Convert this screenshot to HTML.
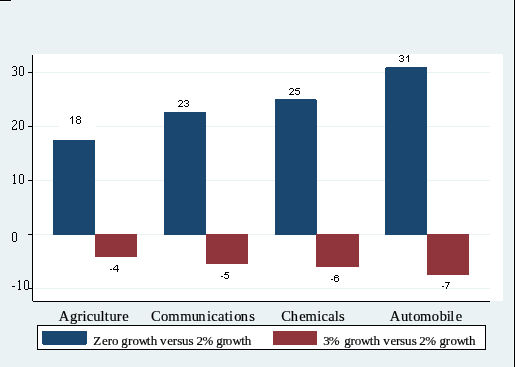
<!DOCTYPE html>
<html><head><meta charset="utf-8">
<style>
html,body{margin:0;padding:0;width:515px;height:367px;overflow:hidden;background:#EAF2F3;}
svg{position:absolute;left:0;top:0;display:block;will-change:transform;}
.s{font-family:"Liberation Sans",sans-serif;fill:#000;}
.f{font-family:"Liberation Serif",serif;fill:#000;stroke:#000;stroke-width:0.18px;}
</style></head>
<body>
<svg width="515" height="367" viewBox="0 0 515 367">
<g shape-rendering="crispEdges">
<rect x="0" y="0" width="515" height="367" fill="#EAF2F3"/>
<rect x="0" y="1" width="11" height="1" fill="#F8FCFC"/><rect x="11" y="0" width="1" height="1" fill="#F8FCFC"/>
<rect x="0" y="0" width="11" height="1" fill="#000"/>
<rect x="513" y="0" width="1" height="367" fill="#F6FAFA"/>
<rect x="514" y="0" width="1" height="367" fill="#000"/>
<!-- plot region -->
<rect x="32" y="54" width="471" height="247" fill="#fff"/>
<!-- gridlines -->
<rect x="34" y="72" width="456" height="1" fill="#EAF2F3"/>
<rect x="34" y="126" width="456" height="1" fill="#EAF2F3"/>
<rect x="34" y="180" width="456" height="1" fill="#EAF2F3"/>
<rect x="34" y="234" width="456" height="1" fill="#EAF2F3"/>
<rect x="34" y="288" width="456" height="1" fill="#EAF2F3"/>
<rect x="59" y="124" width="37" height="4" fill="#fff"/>
<!-- bars navy -->
<rect x="53" y="140" width="42" height="95" fill="#1A476F"/>
<rect x="164" y="112" width="42" height="123" fill="#1A476F"/>
<rect x="275" y="99" width="42" height="136" fill="#1A476F"/>
<rect x="385" y="67" width="42" height="168" fill="#1A476F"/>
<!-- bars maroon -->
<rect x="95" y="234" width="42" height="23" fill="#90353B"/>
<rect x="206" y="234" width="42" height="30" fill="#90353B"/>
<rect x="316" y="234" width="43" height="33" fill="#90353B"/>
<rect x="427" y="234" width="42" height="41" fill="#90353B"/>
<rect x="316" y="99" width="1" height="1" fill="#fff"/><rect x="385" y="67" width="1" height="1" fill="#fff"/>
<!-- axes -->
<rect x="32" y="55" width="1" height="246" fill="#000"/>
<rect x="33" y="301" width="457" height="1" fill="#000"/>
<rect x="502" y="54" width="1" height="1" fill="#EAF2F3"/>
<rect x="28" y="72" width="4" height="1" fill="#000"/>
<rect x="28" y="126" width="4" height="1" fill="#000"/>
<rect x="28" y="180" width="4" height="1" fill="#000"/>
<rect x="28" y="234" width="4" height="1" fill="#000"/>
<rect x="28" y="288" width="4" height="1" fill="#000"/>
<!-- legend -->
<rect x="37.5" y="325.5" width="448" height="24" fill="#fff" stroke="#000" stroke-width="1"/>
<rect x="42" y="331" width="45" height="14" fill="#1A476F"/>
<rect x="42" y="344" width="1" height="1" fill="#fff"/><rect x="86" y="344" width="1" height="1" fill="#fff"/>
<rect x="273" y="331" width="44" height="14" fill="#90353B"/>
</g>
<!-- numeric labels (bitmap) -->
<g shape-rendering="crispEdges"><path fill="#000" d="M72 116h1v1h-1zM71 117h2v1h-2zM70 118h1v1h-1zM72 118h1v1h-1zM72 119h1v1h-1zM72 120h1v1h-1zM72 121h1v1h-1zM72 122h1v1h-1zM72 123h1v1h-1zM77 116h3v1h-3zM76 117h1v1h-1zM80 117h1v1h-1zM76 118h1v1h-1zM80 118h1v1h-1zM77 119h3v1h-3zM76 120h1v1h-1zM80 120h1v1h-1zM76 121h1v1h-1zM80 121h1v1h-1zM76 122h1v1h-1zM80 122h1v1h-1zM77 123h3v1h-3zM179 100h3v1h-3zM178 101h1v1h-1zM182 101h1v1h-1zM182 102h1v1h-1zM181 103h1v1h-1zM180 104h1v1h-1zM179 105h1v1h-1zM178 106h5v1h-5zM185 100h3v1h-3zM184 101h1v1h-1zM188 101h1v1h-1zM188 102h1v1h-1zM186 103h2v1h-2zM188 104h1v1h-1zM184 105h1v1h-1zM188 105h1v1h-1zM185 106h3v1h-3zM290 88h3v1h-3zM289 89h1v1h-1zM293 89h1v1h-1zM293 90h1v1h-1zM292 91h1v1h-1zM291 92h1v1h-1zM290 93h1v1h-1zM289 94h5v1h-5zM296 88h4v1h-4zM295 89h1v1h-1zM295 90h4v1h-4zM299 91h1v1h-1zM299 92h1v1h-1zM295 93h1v1h-1zM299 93h1v1h-1zM296 94h3v1h-3zM400 55h3v1h-3zM399 56h1v1h-1zM403 56h1v1h-1zM403 57h1v1h-1zM401 58h2v1h-2zM403 59h1v1h-1zM399 60h1v1h-1zM403 60h1v1h-1zM400 61h3v1h-3zM408 55h1v1h-1zM407 56h2v1h-2zM406 57h1v1h-1zM408 57h1v1h-1zM408 58h1v1h-1zM408 59h1v1h-1zM408 60h1v1h-1zM408 61h1v1h-1zM110 269h2v1h-2zM116 265h2v1h-2zM115 266h1v1h-1zM117 266h1v1h-1zM114 267h1v1h-1zM117 267h1v1h-1zM113 268h1v1h-1zM117 268h1v1h-1zM113 269h6v1h-6zM117 270h1v1h-1zM117 271h1v1h-1zM221 276h2v1h-2zM225 272h4v1h-4zM225 273h1v1h-1zM224 274h4v1h-4zM228 275h1v1h-1zM228 276h1v1h-1zM224 277h1v1h-1zM228 277h1v1h-1zM225 278h3v1h-3zM331 279h2v1h-2zM335 275h3v1h-3zM334 276h1v1h-1zM338 276h1v1h-1zM334 277h4v1h-4zM334 278h1v1h-1zM338 278h1v1h-1zM334 279h1v1h-1zM338 279h1v1h-1zM334 280h1v1h-1zM338 280h1v1h-1zM335 281h3v1h-3zM442 286h2v1h-2zM445 282h5v1h-5zM448 283h1v1h-1zM448 284h1v1h-1zM447 285h1v1h-1zM447 286h1v1h-1zM446 287h1v1h-1zM446 288h1v1h-1zM13 66h3v1h-3zM12 67h1v1h-1zM16 67h1v1h-1zM16 68h1v1h-1zM16 69h1v1h-1zM14 70h2v1h-2zM16 71h1v1h-1zM16 72h1v1h-1zM16 73h1v1h-1zM16 74h1v1h-1zM12 75h4v1h-4zM20 66h3v1h-3zM19 67h1v1h-1zM23 67h1v1h-1zM19 68h1v1h-1zM23 68h1v1h-1zM19 69h1v1h-1zM23 69h1v1h-1zM19 70h1v1h-1zM23 70h1v1h-1zM19 71h1v1h-1zM23 71h1v1h-1zM19 72h1v1h-1zM23 72h1v1h-1zM19 73h1v1h-1zM23 73h1v1h-1zM19 74h1v1h-1zM23 74h1v1h-1zM20 75h3v1h-3zM13 120h3v1h-3zM12 121h1v1h-1zM16 121h1v1h-1zM16 122h1v1h-1zM16 123h1v1h-1zM15 124h1v1h-1zM14 125h1v1h-1zM13 126h1v1h-1zM12 127h1v1h-1zM12 128h1v1h-1zM16 128h1v1h-1zM12 129h5v1h-5zM20 120h3v1h-3zM19 121h1v1h-1zM23 121h1v1h-1zM19 122h1v1h-1zM23 122h1v1h-1zM19 123h1v1h-1zM23 123h1v1h-1zM19 124h1v1h-1zM23 124h1v1h-1zM19 125h1v1h-1zM23 125h1v1h-1zM19 126h1v1h-1zM23 126h1v1h-1zM19 127h1v1h-1zM23 127h1v1h-1zM19 128h1v1h-1zM23 128h1v1h-1zM20 129h3v1h-3zM14 174h1v1h-1zM13 175h2v1h-2zM14 176h1v1h-1zM14 177h1v1h-1zM14 178h1v1h-1zM14 179h1v1h-1zM14 180h1v1h-1zM14 181h1v1h-1zM14 182h1v1h-1zM13 183h3v1h-3zM20 174h3v1h-3zM19 175h1v1h-1zM23 175h1v1h-1zM19 176h1v1h-1zM23 176h1v1h-1zM19 177h1v1h-1zM23 177h1v1h-1zM19 178h1v1h-1zM23 178h1v1h-1zM19 179h1v1h-1zM23 179h1v1h-1zM19 180h1v1h-1zM23 180h1v1h-1zM19 181h1v1h-1zM23 181h1v1h-1zM19 182h1v1h-1zM23 182h1v1h-1zM20 183h3v1h-3zM13 232h3v1h-3zM12 233h1v1h-1zM16 233h1v1h-1zM12 234h1v1h-1zM16 234h1v1h-1zM12 235h1v1h-1zM16 235h1v1h-1zM12 236h1v1h-1zM16 236h1v1h-1zM12 237h1v1h-1zM16 237h1v1h-1zM12 238h1v1h-1zM16 238h1v1h-1zM12 239h1v1h-1zM16 239h1v1h-1zM12 240h1v1h-1zM16 240h1v1h-1zM13 241h3v1h-3zM12 286h3v1h-3zM19 280h1v1h-1zM18 281h2v1h-2zM19 282h1v1h-1zM19 283h1v1h-1zM19 284h1v1h-1zM19 285h1v1h-1zM19 286h1v1h-1zM19 287h1v1h-1zM19 288h1v1h-1zM18 289h3v1h-3zM25 280h3v1h-3zM24 281h1v1h-1zM28 281h1v1h-1zM24 282h1v1h-1zM28 282h1v1h-1zM24 283h1v1h-1zM28 283h1v1h-1zM24 284h1v1h-1zM28 284h1v1h-1zM24 285h1v1h-1zM28 285h1v1h-1zM24 286h1v1h-1zM28 286h1v1h-1zM24 287h1v1h-1zM28 287h1v1h-1zM24 288h1v1h-1zM28 288h1v1h-1zM25 289h3v1h-3z"/></g>
<!-- category labels -->
<text class="f" y="320.5" font-size="14.5" x="58.86 70.08 77.41 82.5 86.85 93.31 100.51 104.86 109.41 116.81 122.13">Agriculture</text>
<text class="f" y="320.5" font-size="14.5" x="151.11 161.05 168.3 180.3 191.81 198.37 206.9 211.25 217.89 224.66 229.1 234.25 240.87 249.21">Communications</text>
<text class="f" y="320.5" font-size="14.5" x="281.31 290.76 299.13 305.4 317.3 321.55 328.19 334.81 338.91">Chemicals</text>
<text class="f" y="320.5" font-size="14.5" x="389.86 400.91 408.26 413.25 419.9 431.85 439.8 446.8 450.31 455.83">Automobile</text>
<!-- legend text -->
<text class="f" y="345" font-size="13.0" x="93.28 101.99 107.64 112.1 118.6 121.34 128.04 132.5 138.79 146.87 150.77 157.27 160.1 167.19 172.84 177.27 181.93 188.47 193.53 196.43 202.46 213.28 216.34 222.44 225.8 232.49 241.27 244.77">Zero growth versus 2% growth</text>
<text class="f" y="345" font-size="13.0" x="323.28 328.86 339.68 344.34 350.44 354.8 360.89 369.67 373.57 380.07 383.2 390.39 396.04 400.07 405.03 411.67 416.73 419.23 425.26 436.08 439.44 445.74 450.5 456.79 465.27 469.07">3% growth versus 2% growth</text>
</svg>
</body></html>
